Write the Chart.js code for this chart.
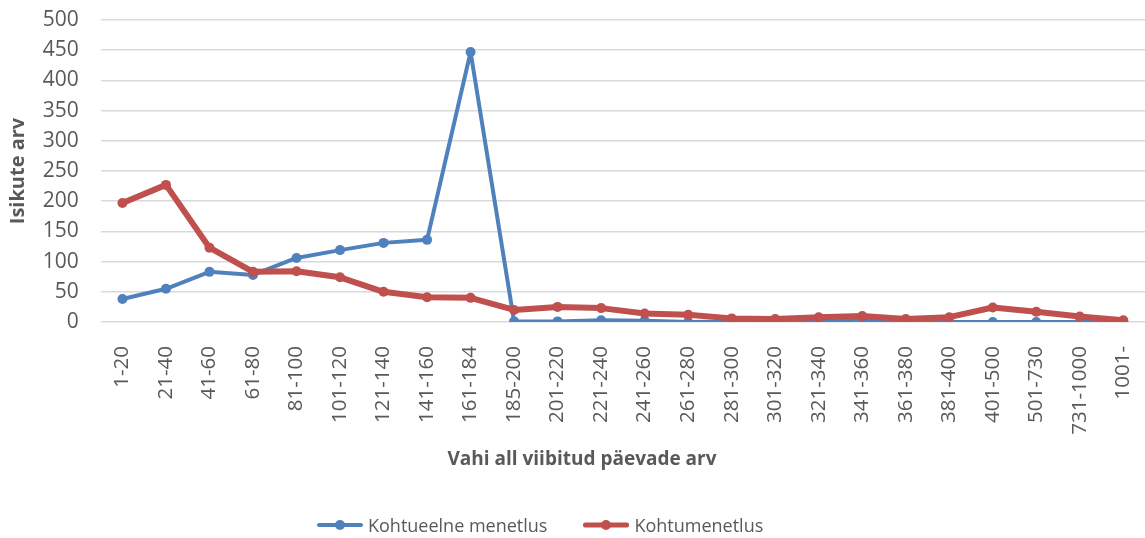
<!DOCTYPE html>
<html>
<head>
<meta charset="utf-8">
<script src="https://cdn.jsdelivr.net/npm/chart.js@4/dist/chart.umd.min.js"></script>
<style>
  html, body { margin: 0; padding: 0; background: #fff; overflow: hidden; }
  #wrap { position: relative; width: 1145px; height: 538px; overflow: hidden; }
  #c { position: absolute; left: 0; top: 0; }
  #xtitle { position: absolute; left: 582px; top: 458px; transform: translate(-50%, -50%); white-space: nowrap;
            font-family: "Open Sans", sans-serif; font-size: 19px; font-weight: bold; color: #595959; }
  #legend { position: absolute; top: 512px; left: 317px; height: 26px; display: flex; align-items: center;
            font-family: "Open Sans", sans-serif; font-size: 18px; color: #595959; white-space: nowrap; }
  .item { display: flex; align-items: center; }
  .sym { position: relative; width: 46px; height: 10px; margin-right: 5px; }
  .sym .ln { position: absolute; left: 0; right: 0; top: 50%; transform: translateY(-50%); border-radius: 2px; }
  .sym .dt { position: absolute; left: 50%; top: 50%; width: 10px; height: 10px; margin: -5px 0 0 -5px; border-radius: 50%; }
</style>
</head>
<body>
<div id="wrap">
  <canvas id="c" width="1172" height="538"></canvas>
  <div id="xtitle"></div>
  <div id="legend"></div>
</div>
<script>
const categories = ["1-20","21-40","41-60","61-80","81-100","101-120","121-140","141-160","161-184","185-200","201-220","221-240","241-260","261-280","281-300","301-320","321-340","341-360","361-380","381-400","401-500","501-730","731-1000","1001-"];
const kohtueelne = [38, 55, 83, 78, 106, 119, 131, 136, 447, 1, 1, 3, 2, 0, 1, 0, 1, 4, 0, 0, 0, 0, 0, 0];
const kohtumenetlus = [197, 227, 123, 83, 84, 74, 50, 41, 40, 20, 25, 23, 14, 12, 6, 5, 8, 10, 5, 8, 24, 17, 9, 3];
const yTicks = [0, 50, 100, 150, 200, 250, 300, 350, 400, 450, 500];
const seriesNames = ["Kohtueelne menetlus", "Kohtumenetlus"];
const xTitle = "Vahi all viibitud päevade arv";
const yTitle = "Isikute arv";
const BLUE = "#4F81BD", RED = "#C0504D", TXT = "#595959";

const ctx = document.getElementById("c").getContext("2d");
new Chart(ctx, {
  type: "line",
  data: {
    labels: categories,
    datasets: [
      { label: seriesNames[0], data: kohtueelne, borderColor: BLUE, backgroundColor: BLUE, borderJoinStyle: "round",
        borderWidth: 4, pointRadius: 5, pointBackgroundColor: BLUE, pointBorderWidth: 0, tension: 0, order: 2 },
      { label: seriesNames[1], data: kohtumenetlus, borderColor: RED, backgroundColor: RED, borderJoinStyle: "round",
        borderWidth: 6, pointRadius: 5, pointBackgroundColor: RED, pointBorderWidth: 0, tension: 0, order: 1 }
    ]
  },
  options: {
    responsive: false,
    animation: false,
    layout: { padding: { top: 20, bottom: 70, left: 0, right: 0 } },
    plugins: { legend: { display: false }, tooltip: { enabled: false } },
    scales: {
      x: {
        offset: true,
        grid: { display: false, drawTicks: false },
        border: { display: false },
        ticks: { color: TXT, font: { family: "Open Sans", size: 20.5 }, minRotation: 90, maxRotation: 90, autoSkip: false, padding: 24 },
        afterFit: (s) => { s.height = 146; }
      },
      y: {
        min: 0, max: 500,
        afterBuildTicks: (s) => { s.ticks = yTicks.map(v => ({ value: v })); },
        grid: { color: "#D9D9D9", lineWidth: 1.5, drawTicks: true, tickLength: 22, tickColor: "rgba(0,0,0,0)" },
        border: { display: false },
        ticks: { color: TXT, font: { family: "Open Sans", size: 21 }, padding: 0 },
        title: { display: true, text: yTitle, color: TXT,
                 font: { family: "Open Sans", size: 20, weight: "bold" }, padding: { top: 6, bottom: 0 } },
        afterFit: (s) => { s.width = 100.7; }
      }
    }
  }
});

document.getElementById("xtitle").textContent = xTitle;
const lg = document.getElementById("legend");
[[seriesNames[0], BLUE, 4], [seriesNames[1], RED, 5]].forEach(([name, col, w], i) => {
  const it = document.createElement("div");
  it.className = "item";
  if (i === 0) it.style.marginRight = "36px";
  it.innerHTML = `<div class="sym"><div class="ln" style="height:${w}px;background:${col}"></div><div class="dt" style="background:${col}"></div></div><span>${name}</span>`;
  lg.appendChild(it);
});
</script>
</body>
</html>
